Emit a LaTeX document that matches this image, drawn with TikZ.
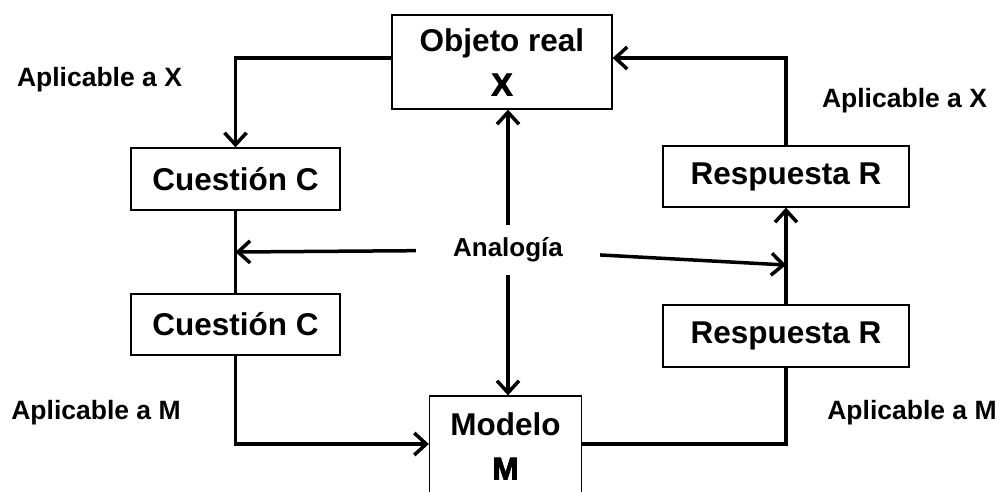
\documentclass[tikz,border=0pt]{standalone}
\usepackage{fontspec}
\setmainfont{Liberation Sans}
\newfontfamily\heavyfont[FakeBold=3]{Liberation Sans Bold}
\usetikzlibrary{arrows.meta}

\begin{document}
\begin{tikzpicture}[x=1pt,y=-1pt,
  box/.style={draw,line width=1.3pt,inner sep=0pt,align=center,font=\bfseries\fontsize{31.5}{44}\selectfont},
  lbl/.style={font=\bfseries\fontsize{26.5}{30}\selectfont},
  link/.style={line width=3.5pt},
  tip/.style={-{Straight Barb[length=12pt,width=22pt]}}]
  \useasboundingbox (0,0) rectangle (1007,491);
  % boxes
  \node[box,minimum width=220pt,minimum height=94pt] (obj) at (502,62) {Objeto real\\{\heavyfont X}};
  \node[box,minimum width=209pt,minimum height=62pt] (cq1) at (235.5,179) {Cuesti\'on C};
  \node[box,minimum width=209pt,minimum height=61pt] (cq2) at (235.5,324.5) {Cuesti\'on C};
  \node[box,minimum width=246pt,minimum height=61pt] (rr1) at (786,176.5) {Respuesta R};
  \node[box,minimum width=246pt,minimum height=62pt] (rr2) at (786,336) {Respuesta R};
  \node[box,minimum width=152pt,minimum height=100pt] (mod) at (505.5,446) {Modelo\\{\heavyfont M}};
  % labels
  \node[lbl] (lx1) at (99.5,80) {Aplicable a X};
  \node[lbl] (lx2) at (904.5,101) {Aplicable a X};
  \node[lbl] (lm1) at (96,413) {Aplicable a M};
  \node[lbl] (lm2) at (912,413) {Aplicable a M};
  \node[lbl,font=\bfseries\fontsize{26}{30}\selectfont,inner xsep=37pt,inner ysep=13pt] (ana) at (508,250) {Analog\'{\i}a};
  \coordinate (lhit) at (cq1.south |- 0,252);
  \coordinate (rhit) at (rr1.south |- 0,265);
  % connectors
  \draw[link,tip] ([yshift=4pt]obj.west) -| (cq1.north);
  \draw[link,tip] (rr1.north) |- ([yshift=4pt]obj.east);
  \draw[link] (cq1.south) -- (cq2.north);
  \draw[link,tip] (cq2.south) |- ([yshift=2pt]mod.west);
  \draw[link] ([yshift=2pt]mod.east) -| (rr2.south);
  \draw[link,tip] (rr2.north) -- (rr1.south);
  \draw[link,tip] (ana) -- (lhit);
  \draw[link,tip] (ana) -- (rhit);
  \draw[link,tip] (ana.north) -- (ana.north |- obj.south);
  \draw[link,tip] (ana.south) -- (ana.south |- mod.north);
\end{tikzpicture}
\end{document}
